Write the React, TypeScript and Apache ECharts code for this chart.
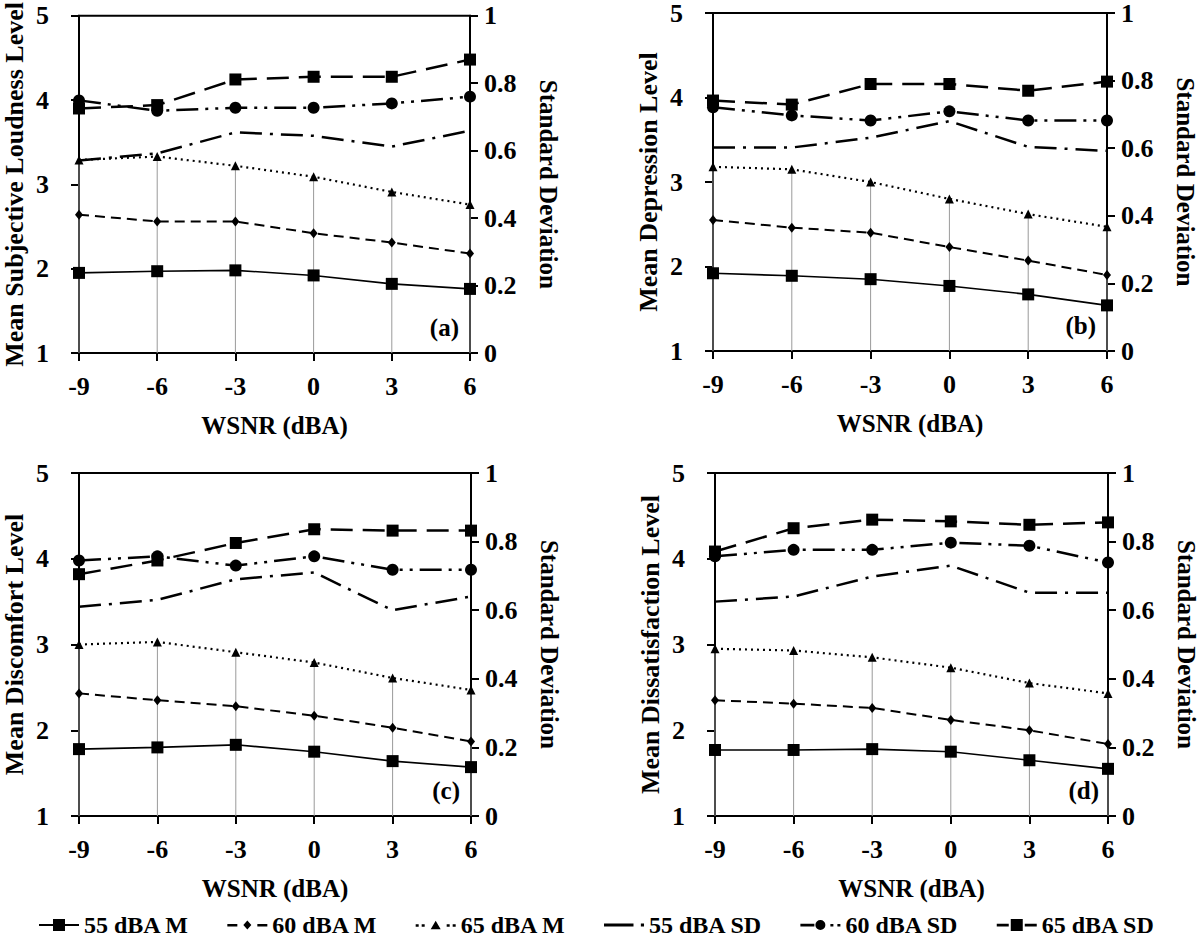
import React, { useEffect, useRef } from "react";
import * as echarts from "echarts";

const wsnr = [-9, -6, -3, 0, 3, 6];
const seriesNames = ["55 dBA M", "60 dBA M", "65 dBA M", "55 dBA SD", "60 dBA SD", "65 dBA SD"];
const panelLabels = ["(a)", "(b)", "(c)", "(d)"];
const yTitles = [
  "Mean Subjective Loudness Level",
  "Mean Depression Level",
  "Mean Discomfort Level",
  "Mean Dissatisfaction Level",
];
const xTitle = "WSNR (dBA)";
const sdTitle = "Standard Deviation";

// (a) loudness
const loud55M = [1.95, 1.97, 1.98, 1.92, 1.82, 1.76];
const loud60M = [2.64, 2.56, 2.56, 2.42, 2.31, 2.18];
const loud65M = [3.29, 3.33, 3.22, 3.09, 2.91, 2.76];
const loud55SD = [0.571, 0.592, 0.654, 0.644, 0.612, 0.659];
const loud60SD = [0.749, 0.718, 0.727, 0.727, 0.74, 0.76];
const loud65SD = [0.725, 0.735, 0.811, 0.819, 0.819, 0.87];

// (b) depression
const dep55M = [1.92, 1.89, 1.85, 1.77, 1.67, 1.54];
const dep60M = [2.55, 2.46, 2.4, 2.23, 2.07, 1.9];
const dep65M = [3.18, 3.15, 3.0, 2.8, 2.62, 2.47];
const dep55SD = [0.602, 0.602, 0.631, 0.68, 0.604, 0.592];
const dep60SD = [0.721, 0.697, 0.682, 0.709, 0.682, 0.682];
const dep65SD = [0.741, 0.729, 0.79, 0.79, 0.77, 0.797];

// (c) discomfort
const dis55M = [1.78, 1.8, 1.83, 1.75, 1.64, 1.57];
const dis60M = [2.43, 2.35, 2.28, 2.17, 2.03, 1.87];
const dis65M = [3.0, 3.03, 2.91, 2.79, 2.61, 2.47];
const dis55SD = [0.61, 0.63, 0.69, 0.71, 0.6, 0.64];
const dis60SD = [0.745, 0.757, 0.73, 0.757, 0.718, 0.718];
const dis65SD = [0.705, 0.745, 0.796, 0.836, 0.832, 0.832];

// (d) dissatisfaction
const sat55M = [1.77, 1.77, 1.78, 1.75, 1.65, 1.55];
const sat60M = [2.35, 2.31, 2.26, 2.12, 2.0, 1.84];
const sat65M = [2.95, 2.93, 2.85, 2.73, 2.55, 2.43];
const sat55SD = [0.625, 0.64, 0.698, 0.73, 0.651, 0.651];
const sat60SD = [0.757, 0.776, 0.776, 0.797, 0.788, 0.739];
const sat65SD = [0.771, 0.839, 0.864, 0.859, 0.849, 0.856];

const panels = [
  { m: [loud55M, loud60M, loud65M], sd: [loud55SD, loud60SD, loud65SD] },
  { m: [dep55M, dep60M, dep65M], sd: [dep55SD, dep60SD, dep65SD] },
  { m: [dis55M, dis60M, dis65M], sd: [dis55SD, dis60SD, dis65SD] },
  { m: [sat55M, sat60M, sat65M], sd: [sat55SD, sat60SD, sat65SD] },
];

const FONT = "'Liberation Serif', 'Times New Roman', serif";

const grids = [
  { left: 73, top: 14, width: 397, height: 339 },
  { left: 713, top: 12, width: 394, height: 339 },
  { left: 77, top: 473, width: 394, height: 343 },
  { left: 715, top: 473, width: 395, height: 343 },
];

const styles = [
  { symbol: "rect", symbolSize: 12, type: "solid", width: 1.6 },
  { symbol: "diamond", symbolSize: [8, 10], type: [10, 6], width: 2 },
  { symbol: "triangle", symbolSize: 9, type: [2, 4], width: 2.2 },
  { symbol: "none", symbolSize: 0, type: [22, 8, 3, 8], width: 2.5 },
  { symbol: "circle", symbolSize: 12, type: [22, 7, 3, 7, 3, 7], width: 2.5 },
  { symbol: "rect", symbolSize: 12, type: [22, 10], width: 2.5 },
];

const legendIcons = [
  "path://M0,5 H40 V7 H0 Z M14,0 H26 V12 H14 Z",
  "path://M0,5 H10 V7.5 H0 Z M20,1.5 L24,6 L20,10.5 L16,6 Z M30,5 H40 V7.5 H30 Z",
  "path://M0,5 H3 V7.5 H0 Z M6,5 H9 V7.5 H6 Z M20,1.5 L25,10 L15,10 Z M31,5 H34 V7.5 H31 Z M37,5 H40 V7.5 H37 Z",
  "path://M0,4.8 H28 V7.6 H0 Z M35,4.8 H38 V7.6 H35 Z",
  "path://M0,4.8 H14 V7.6 H0 Z M15,6 A5,5 0 1,0 25,6 A5,5 0 1,0 15,6 Z M30,5 H33 V7.5 H30 Z M37,5 H40 V7.5 H37 Z",
  "path://M0,4.8 H12 V7.6 H0 Z M14,0 H26 V12 H14 Z M28,4.8 H40 V7.6 H28 Z",
];

export default function App() {
  const ref = useRef<HTMLDivElement>(null);
  useEffect(() => {
    document.body.style.margin = "0";
    const chart = echarts.init(ref.current!, null, { renderer: "svg" });
    const xAxis: any[] = [];
    const yAxis: any[] = [];
    const series: any[] = [];
    const graphic: any[] = [];
    const axisLine = { show: true, onZero: false, lineStyle: { color: "#000", width: 2 } };
    const axisTick = { show: true, inside: false, length: 8, lineStyle: { color: "#000", width: 2 } };
    const labelStyle = { color: "#000", fontFamily: FONT, fontWeight: "bold", fontSize: 26 };
    const nameStyle = { color: "#000", fontFamily: FONT, fontWeight: "bold", fontSize: 25 };

    panels.forEach((p, i) => {
      const g = grids[i];
      xAxis.push({
        type: "value",
        gridIndex: i,
        min: -9,
        max: 6,
        interval: 3,
        axisLine,
        axisTick,
        splitLine: { show: false },
        axisLabel: { ...labelStyle, margin: 20 },
        name: xTitle,
        nameLocation: "middle",
        nameGap: 60,
        nameTextStyle: nameStyle,
      });
      yAxis.push({
        type: "value",
        gridIndex: i,
        position: "left",
        min: 1,
        max: 5,
        interval: 1,
        axisLine,
        axisTick,
        splitLine: { show: false },
        axisLabel: { ...labelStyle, margin: 30 },
        name: yTitles[i],
        nameLocation: "middle",
        nameGap: 52,
        nameTextStyle: { ...nameStyle, fontSize: 26 },
      });
      yAxis.push({
        type: "value",
        gridIndex: i,
        position: "right",
        min: 0,
        max: 1,
        interval: 0.2,
        axisLine,
        axisTick,
        splitLine: { show: false },
        axisLabel: { ...labelStyle, margin: 14 },
        name: sdTitle,
        nameLocation: "middle",
        nameRotate: -90,
        nameGap: 66,
        nameTextStyle: nameStyle,
      });
      // drop lines to the highest mean
      series.push({
        name: "drop" + i,
        type: "bar",
        xAxisIndex: i,
        yAxisIndex: 2 * i,
        barWidth: 1,
        silent: true,
        legendHoverLink: false,
        itemStyle: { color: "#9a9a9a" },
        data: wsnr.map((x, k) => [x, Math.max(p.m[0][k], p.m[1][k], p.m[2][k])]),
        z: 1,
      });
      const all = [...p.m, ...p.sd];
      all.forEach((arr, s) => {
        const st = styles[s];
        series.push({
          name: seriesNames[s],
          type: "line",
          xAxisIndex: i,
          yAxisIndex: s < 3 ? 2 * i : 2 * i + 1,
          data: wsnr.map((x, k) => [x, arr[k]]),
          symbol: st.symbol,
          symbolSize: st.symbolSize,
          showSymbol: st.symbol !== "none",
          lineStyle: { color: "#000", width: st.width, type: st.type },
          itemStyle: { color: "#000" },
          z: 3,
        });
      });
      graphic.push({
        type: "text",
        right: 1200 - (g.left + g.width) + 11,
        top: g.top + g.height - 38,
        style: { text: panelLabels[i], fill: "#000", font: `bold 25px ${FONT}` },
      });
    });

    chart.setOption({
      animation: false,
      backgroundColor: "#fff",
      grid: grids.map((g) => ({ ...g, show: true, borderColor: "#000", borderWidth: 2, backgroundColor: "transparent" })),
      xAxis,
      yAxis,
      series,
      graphic,
      legend: {
        data: seriesNames.map((n, k) => ({ name: n, icon: legendIcons[k] })),
        left: 34,
        top: 908,
        itemWidth: 40,
        itemHeight: 12,
        itemGap: 38,
        symbolKeepAspect: true,
        textStyle: { color: "#000", fontFamily: FONT, fontWeight: "bold", fontSize: 24 },
      },
    });
    return () => chart.dispose();
  }, []);
  return <div ref={ref} style={{ width: 1200, height: 940 }} />;
}
